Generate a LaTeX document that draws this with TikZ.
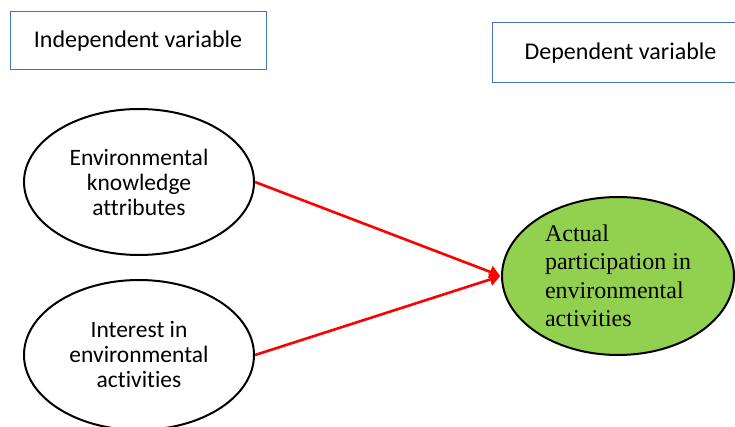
\documentclass[tikz,border=0pt]{standalone}
\usepackage{fontspec}
\setmainfont[Ligatures=NoCommon]{Carlito}
\newfontfamily\serifface{Liberation Serif}
\usetikzlibrary{shapes.geometric,arrows.meta}
\definecolor{boxblue}{RGB}{68,114,196}
\definecolor{leafgreen}{RGB}{146,208,80}
\tikzset{>=Triangle}
\tikzset{%
    varbox/.style={draw=boxblue,line width=1pt,minimum height=58pt,font=\fontsize{24}{28}\selectfont},
    factor/.style={ellipse,draw,line width=2pt,minimum width=230pt,minimum height=146pt,
        inner sep=0pt,align=center,font=\fontsize{23.5}{25}\selectfont},
    link/.style={->,red,line width=2.6pt,shorten >=1pt}
}
\begin{document}
\begin{tikzpicture}[x=1pt,y=-1pt]
    \useasboundingbox (0,0) rectangle (735,427);
    \clip (0,0) rectangle (735,427);
    \node[varbox,minimum width=256pt] (indep) at (138,41) {Independent variable};
    \node[varbox,minimum width=256pt,minimum height=60pt,anchor=west] (dep) at (492,53) {Dependent variable};
	\node[factor] (knowledge) at (139,182) {Environmental\\knowledge\\attributes};
	\node[factor,minimum height=150pt] (interest) at (139,355) {Interest in\\environmental\\activities};
	\node[factor,fill=leafgreen,minimum width=232pt,minimum height=158pt,align=left,
	    font=\serifface\fontsize{24}{28.5}\selectfont] (participation) at (618,276)
	    {Actual\\participation in\\environmental\\activities};
    \draw[link] (knowledge.east) -- (participation.west);
    \draw[link] (interest.east) -- (participation.west);
  \end{tikzpicture}
\end{document}
